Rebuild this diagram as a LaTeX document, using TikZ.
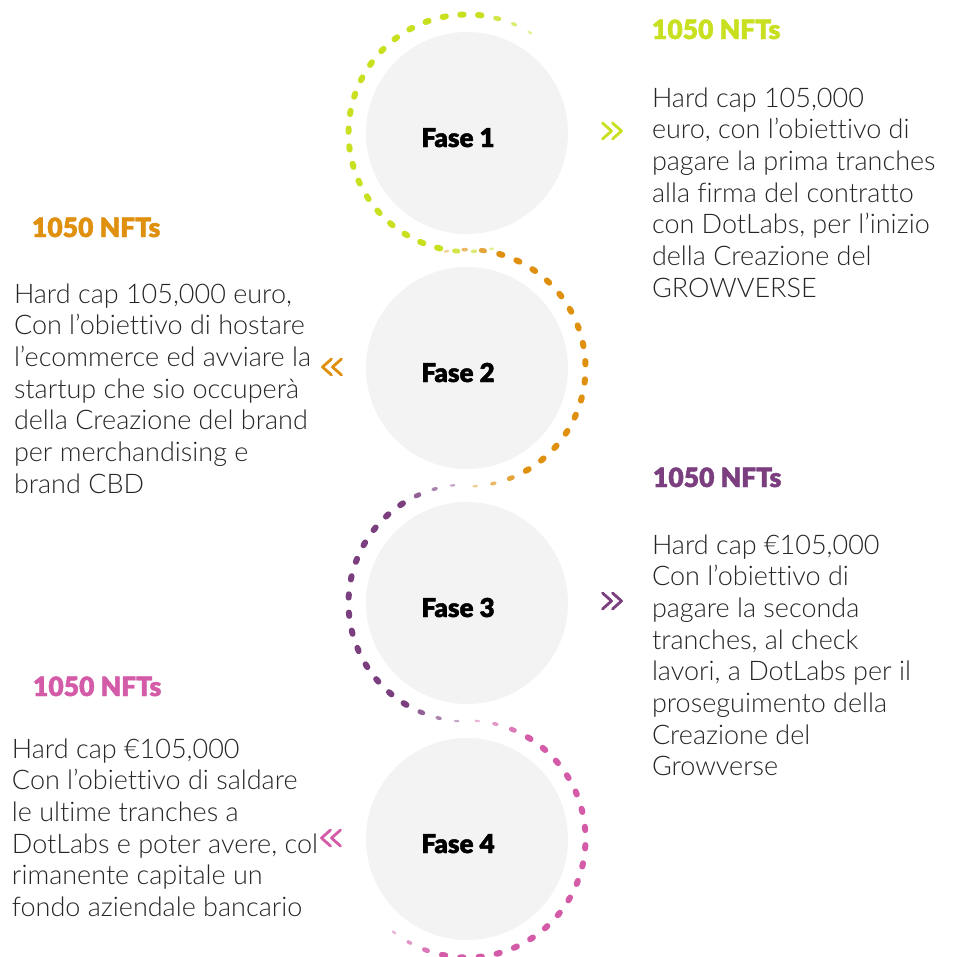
\documentclass[tikz,border=0pt]{standalone}
\usepackage{fontspec}
\setmainfont{Lato Light}[Ligatures={NoCommon}]
\newfontfamily\heavy{Lato Black}[FakeBold=1.6]
\definecolor{limeG}{HTML}{C9E021}
\definecolor{orangeG}{HTML}{E0900F}
\definecolor{purpleG}{HTML}{7B3F80}
\definecolor{pinkG}{HTML}{D45BA8}
\definecolor{discG}{HTML}{F3F3F3}

\begin{document}
\begin{tikzpicture}[x=1pt, y=1pt,
every node/.style={inner sep=0pt, outer sep=0pt},
disc/.style={circle, fill=discG, minimum size=202pt},
fase/.style={font=\heavy\fontsize{26}{26}\selectfont, anchor=base},
nfts/.style={font=\heavy\fontsize{26.5}{26}\selectfont, anchor=base west},
body/.style={font=\fontsize{27}{31}\selectfont, text=black!85, anchor=base west},
chev/.style={line width=2.8pt, line cap=round, line join=round}
]
\useasboundingbox (0,0) rectangle (958,-956);
\fill[white] (0,0) rectangle (958,-956);

% discs
\foreach \i/\cy in {1/-133, 2/-368, 3/-603, 4/-839}{
  \node[disc] (f\i) at (467,\cy) {};
  \node[fase, xshift=-9pt, yshift=-14pt] (l\i) at (f\i) {Fase \i};
}

% dotted rims, fading at both ends
\foreach \cy/\col/\from/\to in {-133/limeG/58/282, -368/orangeG/100/-86,
                                -603/purpleG/97/265, -839/pinkG/85/-128}{
  \pgfmathsetmacro\n{int(abs(\to-\from)/8.6)}
  \foreach \k in {0,...,\n}{
    \pgfmathsetmacro\ang{\from+(\to-\from)*\k/\n}
    \pgfmathsetmacro\fd{min(1,(\k+0.6)/3.6,(\n-\k+0.6)/3.6)}
    \pgfmathsetmacro\lw{1.5+4.5*\fd}
    \pgfmathsetmacro\op{0.35+0.65*\fd}
    \draw[\col, line width=\lw pt, line cap=round, opacity=\op, shift={(467,\cy)}]
      (\ang-0.8:118.5) -- (\ang+0.8:118.5);
  }
}

% chevrons
\foreach \cx/\cy/\dir/\col in {612/-131/1/limeG, 332/-367/-1/orangeG,
                               612/-601/1/purpleG, 331/-838/-1/pinkG}
  \foreach \dx in {-5,5}
    \draw[chev, \col] ({\cx+(\dx-4.5)*\dir}, {\cy+8}) -- ({\cx+(\dx+4.5)*\dir}, \cy)
      -- ({\cx+(\dx-4.5)*\dir}, {\cy-8});

% headings
\node[nfts, text=limeG] (h1) at (652,-39) {1050 NFTs};
\node[nfts, text=orangeG] (h2) at (32,-237) {1050 NFTs};
\node[nfts, text=purpleG] (h3) at (653,-487) {1050 NFTs};
\node[nfts, text=pinkG] (h4) at (33,-696) {1050 NFTs};

% texts
\foreach \ln [count=\i] in {{Hard cap 105,000}, {euro, con l’obiettivo di},
    {pagare la prima tranches}, {alla firma del contratto},
    {con DotLabs, per l’inizio}, {della Creazione del}, {GROWVERSE}}
  \node[body] (ta-\i) at (652,{-107-31.7*(\i-1)}) {\ln};

\foreach \ln [count=\i] in {{Hard cap 105,000 euro,}, {Con l’obiettivo di hostare},
    {l’ecommerce ed avviare la}, {startup che sio occuperà},
    {della Creazione del brand}, {per merchandising e}, {brand CBD}}
  \node[body] (tb-\i) at (14,{-303-31.7*(\i-1)}) {\ln};

\foreach \ln [count=\i] in {{Hard cap €105,000}, {Con l’obiettivo di},
    {pagare la seconda}, {tranches, al check}, {lavori, a DotLabs per il},
    {proseguimento della}, {Creazione del}, {Growverse}}
  \node[body] (tc-\i) at (652,{-554-31.7*(\i-1)}) {\ln};

\foreach \ln [count=\i] in {{Hard cap €105,000}, {Con l’obiettivo di saldare},
    {le ultime tranches a}, {DotLabs e poter avere, col},
    {rimanente capitale un}, {fondo aziendale bancario}}
  \node[body] (td-\i) at (12,{-758-31.7*(\i-1)}) {\ln};
\end{tikzpicture}
\end{document}
